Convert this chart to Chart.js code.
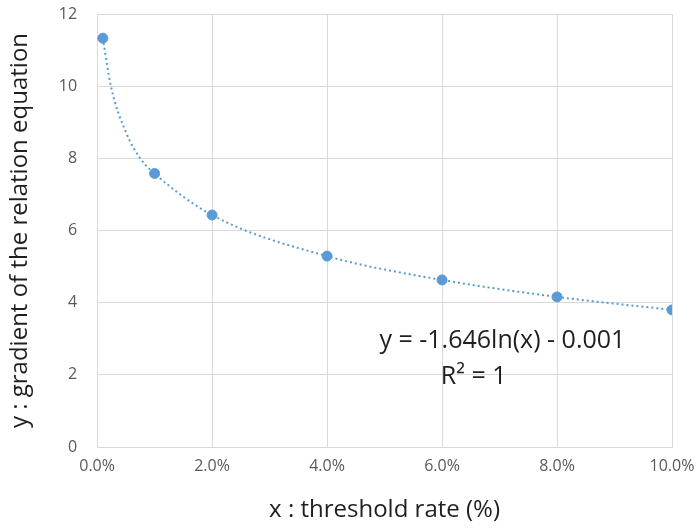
<!DOCTYPE html>
<html>
<head>
<meta charset="utf-8">
<script src="https://cdn.jsdelivr.net/npm/chart.js@4.4.0/dist/chart.umd.min.js"></script>
<style>
  html, body { margin: 0; padding: 0; background: #fff; }
  #wrap { width: 699px; height: 531px; position: relative; }
</style>
</head>
<body>
<div id="wrap"><canvas id="c"></canvas></div>
<script>
// threshold rate (%) and gradient values
const rates = [0.1, 1, 2, 4, 6, 8, 10];
const gradients = [11.33, 7.58, 6.43, 5.29, 4.63, 4.16, 3.80];

// extra points read along the dotted trendline
const trendRates = [0.1, 0.24, 0.5, 0.75, 1, 2, 4, 6, 8, 10];
const trendValues = [11.33, 10.0, 8.73, 8.0, 7.58, 6.43, 5.29, 4.63, 4.16, 3.80];

const xTicks = [0, 2, 4, 6, 8, 10];
const yTicks = [0, 2, 4, 6, 8, 10, 12];

const eqLines = [
  { text: 'y = -1.646ln(x) - 0.001', x: 7.05, y: 2.94 },
  { text: 'R\u00B2 = 1', x: 6.55, y: 1.94 }
];

const blue = '#5B9BD5';
const grid = '#D9D9D9';
const tickColor = '#595959';
const titleColor = '#1f1f1f';
const font = '"Open Sans", sans-serif';

const equationLabel = {
  id: 'equationLabel',
  afterDatasetsDraw(chart) {
    const { ctx, scales } = chart;
    ctx.save();
    ctx.fillStyle = titleColor;
    ctx.font = '25px ' + font;
    ctx.textAlign = 'center';
    ctx.textBaseline = 'middle';
    eqLines.forEach(l => {
      ctx.fillText(l.text, scales.x.getPixelForValue(l.x), scales.y.getPixelForValue(l.y));
    });
    ctx.restore();
  }
};

new Chart(document.getElementById('c'), {
  type: 'scatter',
  data: {
    datasets: [
      {
        label: 'trend',
        data: trendRates.map((r, i) => ({ x: r, y: trendValues[i] })),
        showLine: true,
        borderColor: blue,
        borderWidth: 2,
        borderDash: [2, 3],
        pointRadius: 0,
        cubicInterpolationMode: 'monotone',
        fill: false
      },
      {
        label: 'gradient',
        data: rates.map((r, i) => ({ x: r, y: gradients[i] })),
        backgroundColor: blue,
        borderColor: blue,
        pointRadius: 5,
        pointHoverRadius: 5
      }
    ]
  },
  options: {
    responsive: true,
    maintainAspectRatio: false,
    animation: false,
    layout: { padding: { top: 0, right: 0, left: 4, bottom: 2 } },
    plugins: { legend: { display: false }, tooltip: { enabled: false } },
    scales: {
      x: {
        type: 'linear',
        min: 0,
        max: 10,
        afterBuildTicks: axis => { axis.ticks = xTicks.map(v => ({ value: v })); },
        afterFit: s => { s.paddingRight = 27; },
        ticks: {
          color: tickColor,
          font: { family: font, size: 16 },
          padding: 10,
          callback: v => v.toFixed(1) + '%'
        },
        grid: { color: grid, drawTicks: false },
        border: { color: grid },
        title: {
          display: true,
          text: 'x : threshold rate (%)',
          color: titleColor,
          font: { family: font, size: 24 },
          padding: { top: 10 }
        }
      },
      y: {
        min: 0,
        max: 12,
        afterBuildTicks: axis => { axis.ticks = yTicks.map(v => ({ value: v })); },
        afterFit: s => { s.paddingTop = 14; s.paddingBottom = 10; },
        ticks: {
          color: tickColor,
          font: { family: font, size: 16 },
          padding: 20
        },
        grid: { color: grid, drawTicks: false },
        border: { color: grid },
        title: {
          display: true,
          text: 'y : gradient of the relation equation',
          color: titleColor,
          font: { family: font, size: 24 },
          padding: { top: 2, bottom: 4 }
        }
      }
    }
  },
  plugins: [equationLabel]
});
</script>
</body>
</html>
